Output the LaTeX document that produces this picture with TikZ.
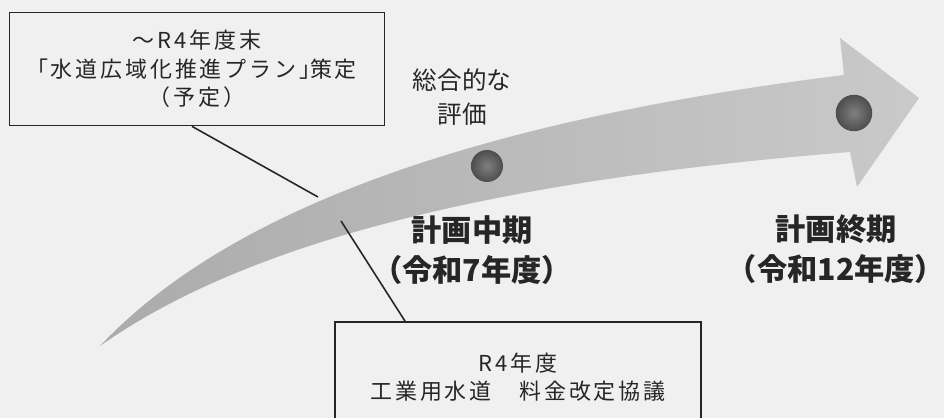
\documentclass[tikz,border=0pt]{standalone}
\usepackage{fontspec}
\setmainfont{Noto Sans CJK JP}
\newfontfamily\boxfont[LetterSpace=13]{Noto Sans CJK JP}
\begin{document}
\begin{tikzpicture}[x=0.02cm, y=-0.02cm,
    note/.style={draw=black!85, line width=1pt, align=center, text=black!85,
        font=\boxfont\fontsize{12.5pt}{16.2pt}\selectfont},
    phase/.style={align=center, inner sep=0pt, text=black!85, font=\fontsize{17.2pt}{22.7pt}\selectfont\bfseries},
    dot/.style={circle, shading=radial, inner color=black!50, outer color=black!70, inner sep=0pt}]
    \fill[black!6] (0,0) rectangle (944,418);
    \clip (0,0) rectangle (944,418);
    % curved arrow
    \shade[left color=black!33, right color=black!21]
        (100,346) .. controls (200,240) and (400,130) .. (844,75) -- (840,38) -- (919,98)
        -- (857,187) -- (850,152) .. controls (500,180) and (250,240) .. (100,346) -- cycle;
    \coordinate (upper) at (318,197);
    \coordinate (lower) at (341,221);
    \node[dot, minimum size=0.64cm] (mid) at (487,166) {};
    \node[dot, minimum size=0.73cm] (end) at (854,113) {};

    \node[note, minimum width=7.5cm, minimum height=2.26cm] (plan) at (197,69)
        {〜R4年度末\\\kern-.5em「水道広域化推進プラン」\kern-.5em策定\\（予定）};
    \node[note, minimum width=7.32cm, minimum height=2.2cm] (rate) at (518,377)
        {R4年度\\工業用水道　料金改定協議};

    \node[align=center, text=black!85, font=\fontsize{14pt}{19.8pt}\selectfont] (eval) at (462,97) {総合的な\\評価};
    \node[phase] (midlabel) at (472,250) {計画中期\\\kern-.4em（令和7年度）\kern-.4em};
    \node[phase] (endlabel) at (836,249) {計画終期\\\kern-.4em（令和12年度）\kern-.4em};

    \draw[line width=0.9pt, black!85] ([xshift=-1mm]plan.south) -- (upper);
    \draw[line width=0.9pt, black!85] ([xshift=-2.26cm]rate.north) -- (lower);
\end{tikzpicture}
\end{document}
